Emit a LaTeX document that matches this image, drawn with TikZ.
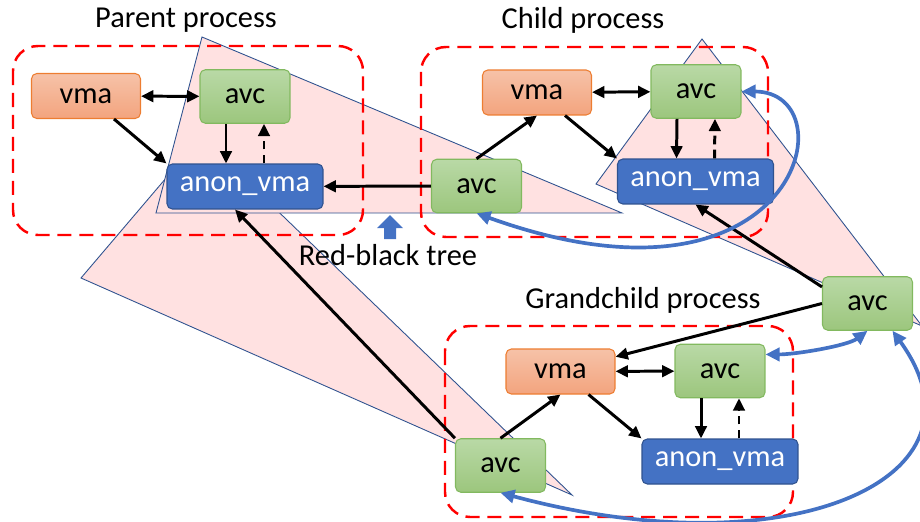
\documentclass[tikz,border=0pt]{standalone}
\usepackage{fontspec}
\setmainfont{Carlito}
\usetikzlibrary{arrows.meta,positioning}
\definecolor{vmaedge}{RGB}{237,125,49}
\definecolor{vmatop}{RGB}{246,194,168}
\definecolor{vmabot}{RGB}{243,164,126}
\definecolor{avcedge}{RGB}{130,185,95}
\definecolor{avctop}{RGB}{185,217,166}
\definecolor{avcbot}{RGB}{156,198,125}
\definecolor{anonfill}{RGB}{68,114,196}
\definecolor{anonedge}{RGB}{47,82,143}
\definecolor{treefill}{RGB}{255,225,225}
\definecolor{treeedge}{RGB}{47,82,143}
\definecolor{linkblue}{RGB}{68,114,196}

\begin{document}
\begin{tikzpicture}[x=0.02cm,y=-0.02cm,
  font=\fontsize{17.3}{20}\selectfont,
  box/.style={rounded corners=3pt,line width=0.6pt,inner sep=0pt},
  vmabox/.style={box,draw=vmaedge,top color=vmatop,bottom color=vmabot,minimum width=2.18cm,minimum height=0.9cm},
  avcbox/.style={box,draw=avcedge,top color=avctop,bottom color=avcbot,minimum width=1.8cm,minimum height=1.07cm},
  anonbox/.style={box,draw=anonedge,fill=anonfill,text=white,minimum width=3.12cm,minimum height=0.9cm},
  proc/.style={draw=red,line width=1.4pt,dash pattern=on 8pt off 4.5pt,rounded corners=0.5cm},
  tree/.style={draw=treeedge,fill=treefill,line width=0.5pt},
  arr/.style={line width=1.7pt,-{Triangle[length=7pt,width=6.5pt]}},
  biarr/.style={line width=1.7pt,{Triangle[length=7pt,width=6.5pt]}-{Triangle[length=7pt,width=6.5pt]}},
  dasharr/.style={arr,dash pattern=on 5pt off 3pt},
  bluearr/.style={draw=linkblue,line width=2.1pt,{Triangle[length=8pt,width=7.5pt]}-{Triangle[length=8pt,width=7.5pt]}}]
  \useasboundingbox (0,0) rectangle (920,521);

  % red-black trees
  \draw[tree] (201,137) -- (81,278) -- (572,495) -- cycle;
  \draw[tree] (202,37) -- (156,213) -- (622,213) -- cycle;
  \draw[tree] (702,39) -- (596,184) -- (922,326) -- cycle;

  % processes
  \draw[proc] (13,46) rectangle (363,235);
  \draw[proc] (421,47) rectangle (768,237);
  \draw[proc] (445,326) rectangle (793,517);
  \node (ptitle) at (186,20) {Parent process};
  \node (ctitle) at (583,20) {Child process};
  \node (gtitle) at (643,300) {Grandchild process};

  \fill[linkblue] (390,215) -- (403,228) -- (396,228) -- (396,239) -- (384,239) -- (384,228) -- (377,228) -- cycle;
  \node (rbt) at (388,255) {Red-black tree};

  % parent
  \node[vmabox] (pvma) at (86,96) {vma};
  \node[avcbox] (pavc) at (245,96.5) {avc};
  \node[anonbox] (panon) at (245,186.5) {anon\_vma};
  % child
  \node[vmabox] (cvma) at (537,92.5) {vma};
  \node[avcbox] (cavc) at (696,91.5) {avc};
  \node[anonbox] (canon) at (695.5,181.5) {anon\_vma};
  \node[avcbox] (cavcl) at (476.5,186) {avc};
  % grandchild
  \node[avcbox] (gavcr) at (867.5,303.5) {avc};
  \node[vmabox] (gvma) at (560.5,371.5) {vma};
  \node[avcbox] (gavc) at (720,371) {avc};
  \node[anonbox] (ganon) at (720,461.5) {anon\_vma};
  \node[avcbox] (gavcl) at (500.5,465.5) {avc};

  \foreach \v/\a/\n in {pvma/pavc/panon, cvma/cavc/canon, gvma/gavc/ganon} {
    \draw[biarr] (\v) -- (\a);
    \draw[arr] ([xshift=-0.54cm]\v.south east) -- (\n.north west);
    \draw[arr] ([xshift=-0.38cm]\a.south) -- ([xshift=-0.38cm]\n.north);
    \draw[dasharr] ([xshift=0.38cm]\n.north) -- ([xshift=0.38cm]\a.south);
  }
  \draw[arr] (cavcl) -- (panon);
  \foreach \l/\v in {cavcl/cvma, gavcl/gvma}
    \draw[arr] (\l.north) -- (\v.south);
  \draw[arr] (gavcr.160) -- (canon.south);
  \draw[arr] (gavcr.west) -- (gvma.15);
  \draw[arr] (gavcl.north west) -- ([xshift=-0.2cm]panon.south);

  % links between avcs
  \draw[bluearr] (cavc.east) .. controls +(109,0) and +(323,116) .. (cavcl.south);
  \draw[bluearr] (gavc.20) .. controls +(30,0) and +(-20,15) .. (gavcr.south);
  \draw[bluearr] ([xshift=0.5cm]gavcr.south) .. controls +(107,148) and +(289.5,78) .. (gavcl.south);
\end{tikzpicture}
\end{document}
